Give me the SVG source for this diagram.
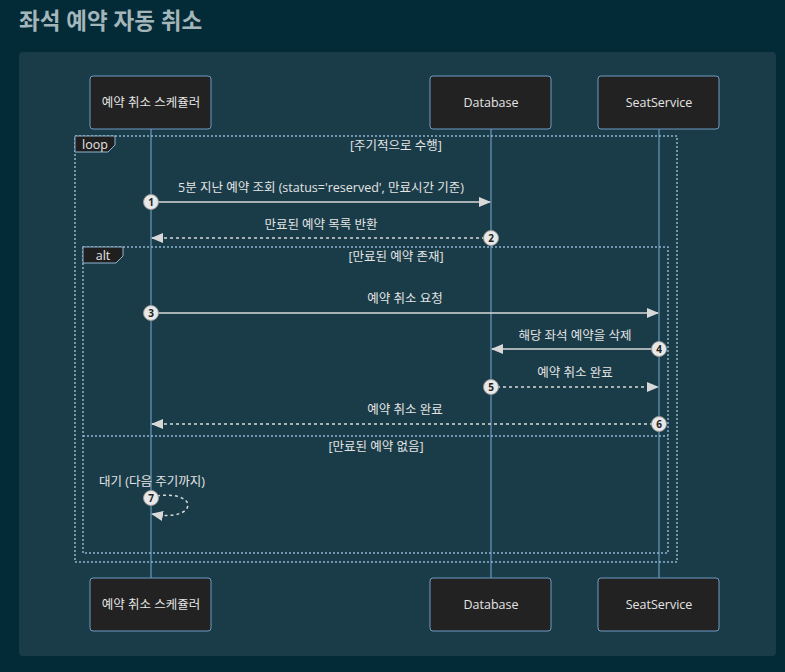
<svg xmlns="http://www.w3.org/2000/svg" width="785" height="672" viewBox="0 0 785 672">
<defs>
<style>
text{font-family:"Open Sans","Noto Sans CJK KR",sans-serif;fill:#e4e4e4;}
.actor rect{fill:#222222;stroke:#6e9cc4;stroke-width:1;}
.actor text{font-size:12.5px;text-anchor:middle;dominant-baseline:central;}
.life{stroke:#7aaad6;stroke-width:1;}
.msg{stroke:#d8d8d8;stroke-width:1.5;fill:none;}
.dash{stroke-dasharray:3,3;}
.mt{font-size:12.5px;text-anchor:middle;}
.frame{fill:none;stroke:#8fb4cf;stroke-width:1.5;stroke-dasharray:2,2;}
.lbl{fill:#1f1f1f;stroke:#8fb4cf;stroke-width:1;}
.lt{font-size:12.5px;text-anchor:middle;}
.num circle{fill:#e8e8e8;stroke:#9a9a9a;stroke-width:1;}
.num text{fill:#222;font-size:10px;text-anchor:middle;dominant-baseline:central;font-weight:bold;}
</style>
<marker id="ah" viewBox="0 0 12 12" refX="11" refY="6" markerWidth="12" markerHeight="12" markerUnits="userSpaceOnUse" orient="auto">
<path d="M0,1 L12,6 L0,11 Z" fill="#d8d8d8"/>
</marker>
</defs>
<rect width="785" height="672" fill="#032a37"/>
<text x="19" y="29" style="font-size:22.5px;font-weight:bold;fill:#a3b6ba;">좌석 예약 자동 취소</text>
<rect x="19" y="52" width="757" height="604" rx="4" fill="#1a3c49"/>

<g id="lifelines">
<line class="life" x1="151" y1="129" x2="151" y2="578"/>
<line class="life" x1="491" y1="129" x2="491" y2="578"/>
<line class="life" x1="659" y1="129" x2="659" y2="578"/>
</g>

<g id="frames">
<rect class="frame" x="75" y="136" width="602" height="426"/>
<path class="lbl" d="M75,136 H115 V145 L108,152 H75 Z"/>
<text class="lt" x="95" y="149">loop</text>
<text class="lt" x="396" y="150">[주기적으로 수행]</text>
<rect class="frame" x="83" y="247" width="585" height="306"/>
<path class="lbl" d="M83,247 H123 V256 L116,263 H83 Z"/>
<text class="lt" x="103" y="260">alt</text>
<text class="lt" x="396" y="261">[만료된 예약 존재]</text>
<line class="frame" x1="83" y1="436" x2="668" y2="436"/>
<text class="lt" x="376" y="451">[만료된 예약 없음]</text>
</g>

<g id="connectors">
<line class="msg" x1="151" y1="202" x2="490" y2="202" marker-end="url(#ah)"/>
<text class="mt" x="321" y="192">5분 지난 예약 조회 (status='reserved', 만료시간 기준)</text>
<line class="msg dash" x1="491" y1="238" x2="152" y2="238" marker-end="url(#ah)"/>
<text class="mt" x="321" y="229">만료된 예약 목록 반환</text>
<line class="msg" x1="151" y1="313" x2="658" y2="313" marker-end="url(#ah)"/>
<text class="mt" x="405" y="303">예약 취소 요청</text>
<line class="msg" x1="659" y1="349" x2="492" y2="349" marker-end="url(#ah)"/>
<text class="mt" x="575" y="340">해당 좌석 예약을 삭제</text>
<line class="msg dash" x1="491" y1="387" x2="658" y2="387" marker-end="url(#ah)"/>
<text class="mt" x="575" y="377">예약 취소 완료</text>
<line class="msg dash" x1="659" y1="424" x2="152" y2="424" marker-end="url(#ah)"/>
<text class="mt" x="405" y="414">예약 취소 완료</text>
<path class="msg dash" d="M151,497 C200,487 200,523 152,514" marker-end="url(#ah)"/>
<text class="mt" x="152" y="486">대기 (다음 주기까지)</text>
</g>

<g id="numbers">
<g class="num"><circle cx="151" cy="202" r="7.5"/><text x="151" y="202">1</text></g>
<g class="num"><circle cx="491" cy="238" r="7.5"/><text x="491" y="238">2</text></g>
<g class="num"><circle cx="151" cy="313" r="7.5"/><text x="151" y="313">3</text></g>
<g class="num"><circle cx="659" cy="349" r="7.5"/><text x="659" y="349">4</text></g>
<g class="num"><circle cx="491" cy="387" r="7.5"/><text x="491" y="387">5</text></g>
<g class="num"><circle cx="659" cy="424" r="7.5"/><text x="659" y="424">6</text></g>
<g class="num"><circle cx="151" cy="498" r="7.5"/><text x="151" y="498">7</text></g>
</g>

<g id="actor-scheduler-top" class="actor"><rect x="90" y="76" width="121" height="53" rx="3"/><text x="151" y="102">예약 취소 스케쥴러</text></g>
<g id="actor-db-top" class="actor"><rect x="430" y="76" width="121" height="53" rx="3"/><text x="491" y="102">Database</text></g>
<g id="actor-seat-top" class="actor"><rect x="598" y="76" width="121" height="53" rx="3"/><text x="659" y="102">SeatService</text></g>
<g id="actor-scheduler-bottom" class="actor"><rect x="90" y="578" width="121" height="53" rx="3"/><text x="151" y="604">예약 취소 스케쥴러</text></g>
<g id="actor-db-bottom" class="actor"><rect x="430" y="578" width="121" height="53" rx="3"/><text x="491" y="604">Database</text></g>
<g id="actor-seat-bottom" class="actor"><rect x="598" y="578" width="121" height="53" rx="3"/><text x="659" y="604">SeatService</text></g>
</svg>
